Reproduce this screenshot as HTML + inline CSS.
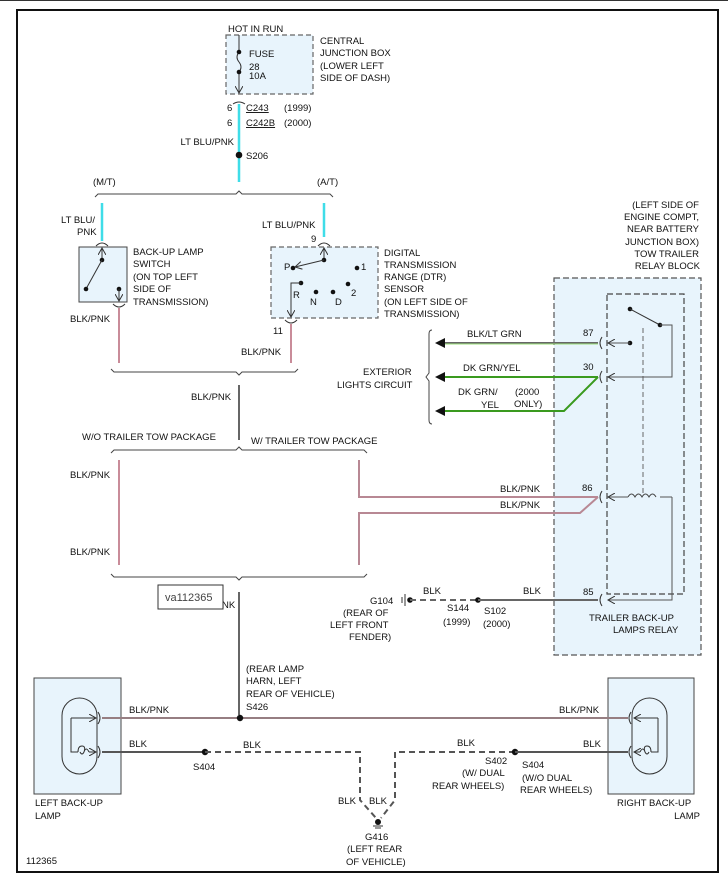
<!DOCTYPE html>
<html><head><meta charset="utf-8"><style>
html,body{margin:0;padding:0;background:#fff}
svg{display:block}
text{font-family:"Liberation Sans",Arial,sans-serif;font-size:9.5px;fill:#111}
</style></head><body>
<svg width="728" height="882" viewBox="0 0 728 882" xmlns="http://www.w3.org/2000/svg">
<defs>
<marker id="ah" markerWidth="8" markerHeight="8" refX="7" refY="4" orient="auto" markerUnits="userSpaceOnUse"><path d="M0,0 L7,4 L0,8" fill="none" stroke="#333" stroke-width="1"/></marker>
</defs>
<line x1="0" y1="0.5" x2="728" y2="0.5" stroke="#333" stroke-width="1"/>
<rect x="17" y="10" width="701" height="862" fill="none" stroke="#111" stroke-width="2"/>

<!-- Relay block background (drawn first so wires overlay) -->
<rect x="554" y="278" width="147" height="377" fill="#e8f4fc" stroke="#555" stroke-width="1.2" stroke-dasharray="6,3"/>
<rect x="607" y="294" width="77" height="300" fill="none" stroke="#444" stroke-width="1.2" stroke-dasharray="6,3"/>

<!-- Central junction box -->
<rect x="226" y="35" width="87" height="59" fill="#e8f4fc" stroke="#666" stroke-width="1.2" stroke-dasharray="5,3"/>
<text x="228" y="32">HOT IN RUN</text>
<line x1="239" y1="35" x2="239" y2="52" stroke="#333"/>
<path d="M239,52 q-4,5 0,10 q4,5 0,10" fill="none" stroke="#333"/>
<line x1="239" y1="72" x2="239" y2="93" stroke="#333" marker-end="url(#ah)"/>
<circle cx="239" cy="52" r="2.3" fill="#111"/><circle cx="239" cy="72" r="2.3" fill="#111"/>
<text x="249" y="57">FUSE</text><text x="249" y="70">28</text><text x="249" y="79">10A</text>
<text x="320" y="44">CENTRAL</text><text x="320" y="56">JUNCTION BOX</text><text x="320" y="69">(LOWER LEFT</text><text x="320" y="81">SIDE OF DASH)</text>
<path d="M233,104 q6,-4 12,0" fill="none" stroke="#333"/>
<line x1="239" y1="104" x2="239" y2="182" stroke="#3fdde8" stroke-width="2.5"/>
<text x="227" y="111">6</text><text x="246" y="111" text-decoration="underline">C243</text><text x="284" y="111">(1999)</text>
<text x="227" y="126">6</text><text x="246" y="126" text-decoration="underline">C242B</text><text x="284" y="126">(2000)</text>
<text x="234" y="145" text-anchor="end">LT BLU/PNK</text>
<circle cx="239" cy="155" r="3.3" fill="#111"/><text x="246" y="159">S206</text>
<text x="93" y="185">(M/T)</text><text x="317" y="185">(A/T)</text>
<path d="M95,197 l3,-3 H236 l3,-3 l3,3 H330 l3,3" fill="none" stroke="#444"/>

<!-- Backup switch -->
<line x1="102" y1="203" x2="102" y2="241" stroke="#3fdde8" stroke-width="2.5"/>
<text x="61" y="223">LT BLU/</text><text x="77" y="235">PNK</text>
<path d="M96,246 q6,-6 12,0" fill="none" stroke="#333"/>
<rect x="79" y="247" width="48" height="55" fill="#e8f4fc" stroke="#444"/>
<line x1="102" y1="260" x2="102" y2="248" stroke="#333" marker-end="url(#ah)"/>
<circle cx="102" cy="260" r="2.3" fill="#111"/>
<line x1="102" y1="260" x2="86" y2="289" stroke="#333"/>
<circle cx="86" cy="289" r="2.3" fill="#111"/>
<circle cx="119" cy="289" r="2.3" fill="#111"/>
<line x1="119" y1="289" x2="119" y2="301" stroke="#333" marker-end="url(#ah)"/>
<path d="M113,304 q6,6 12,0" fill="none" stroke="#333"/>
<text x="133" y="255">BACK-UP LAMP</text><text x="133" y="267">SWITCH</text><text x="133" y="280">(ON TOP LEFT</text><text x="133" y="292">SIDE OF</text><text x="133" y="305">TRANSMISSION)</text>
<text x="70" y="322">BLK/PNK</text>
<line x1="119" y1="308" x2="119" y2="363" stroke="#c98c99" stroke-width="2"/>

<!-- DTR -->
<line x1="324" y1="203" x2="324" y2="237" stroke="#3fdde8" stroke-width="2.5"/>
<text x="262" y="228">LT BLU/PNK</text><text x="311" y="242">9</text>
<path d="M318,246 q6,-6 12,0" fill="none" stroke="#333"/>
<rect x="271" y="247" width="107" height="71" fill="#e8f4fc" stroke="#666" stroke-width="1.2" stroke-dasharray="5,3"/>
<line x1="324" y1="260" x2="324" y2="248" stroke="#333" marker-end="url(#ah)"/>
<circle cx="324" cy="260" r="2.3" fill="#111"/>
<line x1="324" y1="260" x2="295" y2="267" stroke="#333" marker-end="url(#ah)"/>
<circle cx="293" cy="268" r="2.3" fill="#111"/><text x="284" y="270">P</text>
<circle cx="357" cy="268" r="2.3" fill="#111"/><text x="361" y="270">1</text>
<circle cx="301" cy="283" r="2.3" fill="#111"/>
<polyline points="301,283 291,283 291,317" fill="none" stroke="#333" marker-end="url(#ah)"/>
<text x="293" y="298">R</text>
<circle cx="316" cy="292" r="2.3" fill="#111"/><text x="310" y="305">N</text>
<circle cx="333" cy="292" r="2.3" fill="#111"/><text x="335" y="305">D</text>
<circle cx="348" cy="284" r="2.3" fill="#111"/><text x="351" y="296">2</text>
<text x="384" y="256">DIGITAL</text><text x="384" y="268">TRANSMISSION</text><text x="384" y="280">RANGE (DTR)</text><text x="384" y="292">SENSOR</text><text x="384" y="305">(ON LEFT SIDE OF</text><text x="384" y="317">TRANSMISSION)</text>
<path d="M285,320 q6,6 12,0" fill="none" stroke="#333"/>
<text x="273" y="334">11</text>
<line x1="291" y1="324" x2="291" y2="363" stroke="#c98c99" stroke-width="2"/>
<text x="241" y="355">BLK/PNK</text>

<path d="M111,369 l3,3 H236 l3,3 l3,-3 H295 l3,-3" fill="none" stroke="#444"/>
<line x1="239" y1="385" x2="239" y2="440" stroke="#666" stroke-width="2"/>
<text x="191" y="400">BLK/PNK</text>
<text x="82" y="440">W/O TRAILER TOW PACKAGE</text>
<text x="251" y="444">W/ TRAILER TOW PACKAGE</text>
<path d="M111,453 l3,-3 H236 l3,-3 l3,3 H364 l3,3" fill="none" stroke="#444"/>
<line x1="119" y1="460" x2="119" y2="565" stroke="#c98c99" stroke-width="2"/>
<text x="70" y="478">BLK/PNK</text><text x="70" y="555">BLK/PNK</text>
<polyline points="359,460 359,497 598,497" fill="none" stroke="#b88894" stroke-width="2"/>
<polyline points="359,565 359,513 580,513 598,497" fill="none" stroke="#b88894" stroke-width="2"/>
<text x="500" y="492">BLK/PNK</text><text x="500" y="508">BLK/PNK</text>
<path d="M111,574 l3,3 H236 l3,3 l3,-3 H364 l3,-3" fill="none" stroke="#444"/>
<line x1="239" y1="592" x2="239" y2="715" stroke="#666" stroke-width="2"/>
<text x="222" y="608">NK</text>
<rect x="158" y="585" width="65" height="24" fill="#fff" stroke="#333"/>
<text x="165" y="601" style="font-size:11px;fill:#444">va112365</text>

<!-- Relay internals -->
<g text-anchor="end"><text x="699" y="208">(LEFT SIDE OF</text><text x="699" y="220">ENGINE COMPT,</text><text x="699" y="232">NEAR BATTERY</text><text x="699" y="245">JUNCTION BOX)</text><text x="699" y="257">TOW TRAILER</text><text x="700" y="269">RELAY BLOCK</text></g>
<line x1="643" y1="328" x2="643" y2="494" stroke="#666" stroke-dasharray="5,3"/>
<circle cx="630" cy="309" r="2.3" fill="#111"/>
<line x1="630" y1="309" x2="660" y2="325" stroke="#333"/>
<circle cx="660" cy="325" r="2.3" fill="#111"/>
<polyline points="660,325 672,325 672,377 608,377" fill="none" stroke="#555" marker-end="url(#ah)"/>
<circle cx="630" cy="343" r="2.3" fill="#111"/>
<line x1="630" y1="343" x2="608" y2="343" stroke="#555" marker-end="url(#ah)"/>
<polyline points="672,497 672,600 608,600" fill="none" stroke="#555" marker-end="url(#ah)"/>
<line x1="660" y1="497" x2="672" y2="497" stroke="#555"/>
<path d="M628,497 q3.5,-6 7,0 q3.5,-6 7,0 q3.5,-6 7,0 q3.5,-6 7,0" fill="none" stroke="#444"/>
<line x1="628" y1="497" x2="608" y2="497" stroke="#555" marker-end="url(#ah)"/>
<g fill="none" stroke="#333"><path d="M602,337 q-4,6 0,12"/><path d="M602,371 q-4,6 0,12"/><path d="M602,491 q-4,6 0,12"/><path d="M602,594 q-4,6 0,12"/></g>
<text x="583" y="336">87</text><text x="583" y="370">30</text><text x="582" y="491">86</text><text x="583" y="595">85</text>
<line x1="445" y1="343" x2="598" y2="343" stroke="#666" stroke-width="2"/>
<line x1="445" y1="344" x2="598" y2="344" stroke="#9be07a" stroke-width="1"/>
<line x1="445" y1="377" x2="598" y2="377" stroke="#3a9a1f" stroke-width="2"/>
<polyline points="445,411 564,411 598,377" fill="none" stroke="#3a9a1f" stroke-width="2"/>
<g fill="#111"><path d="M435,343 l10,-5 v10z"/><path d="M435,377 l10,-5 v10z"/><path d="M435,411 l10,-5 v10z"/></g>
<text x="467" y="337">BLK/LT GRN</text><text x="463" y="371">DK GRN/YEL</text>
<text x="458" y="395">DK GRN/</text><text x="481" y="408">YEL</text><text x="515" y="395">(2000</text><text x="514" y="407">ONLY)</text>
<path d="M432,330 q-3,0 -3,4 v39 l-3,4 l3,4 v39 q0,4 3,4" fill="none" stroke="#444"/>
<text x="363" y="375">EXTERIOR</text><text x="337" y="388">LIGHTS CIRCUIT</text>
<text x="589" y="621">TRAILER BACK-UP</text><text x="613" y="633">LAMPS RELAY</text>

<!-- G104 -->
<line x1="402" y1="597" x2="402" y2="603" stroke="#333"/><line x1="405" y1="594" x2="405" y2="606" stroke="#333"/>
<circle cx="410" cy="600" r="2.8" fill="#111"/>
<line x1="410" y1="600" x2="478" y2="600" stroke="#666" stroke-width="2" stroke-dasharray="6,4"/>
<circle cx="478" cy="600" r="2.8" fill="#111"/>
<line x1="478" y1="600" x2="598" y2="600" stroke="#666" stroke-width="2"/>
<text x="423" y="594">BLK</text><text x="523" y="594">BLK</text>
<text x="370" y="604">G104</text><text x="343" y="616">(REAR OF</text><text x="330" y="628">LEFT FRONT</text><text x="349" y="640">FENDER)</text>
<text x="447" y="611">S144</text><text x="443" y="625">(1999)</text><text x="484" y="614">S102</text><text x="483" y="627">(2000)</text>

<!-- Lamps -->
<rect x="34" y="678" width="87" height="116" fill="#e8f4fc" stroke="#444"/>
<rect x="62" y="698" width="35" height="76" rx="17.5" fill="none" stroke="#333"/>
<polyline points="71,718 71,752 78,752" fill="none" stroke="#333"/>
<line x1="71" y1="718" x2="96" y2="718" stroke="#333" marker-end="url(#ah)"/>
<path d="M78,752 q0,-6 4,-6 q4,0 2,6 q-2,4 -4,0 M84,752 q2,-6 5,0" fill="none" stroke="#333"/>
<line x1="89" y1="752" x2="96" y2="752" stroke="#333" marker-end="url(#ah)"/>
<g fill="none" stroke="#333"><path d="M98,712 q4,6 0,12"/><path d="M98,746 q4,6 0,12"/></g>
<rect x="608" y="678" width="86" height="116" fill="#e8f4fc" stroke="#444"/>
<rect x="632" y="698" width="35" height="76" rx="17.5" fill="none" stroke="#333"/>
<polyline points="658,718 658,752 651,752" fill="none" stroke="#333"/>
<line x1="658" y1="718" x2="634" y2="718" stroke="#333" marker-end="url(#ah)"/>
<path d="M651,752 q0,-6 -4,-6 q-4,0 -2,6 q2,4 4,0 M645,752 q-2,-6 -5,0" fill="none" stroke="#333"/>
<line x1="640" y1="752" x2="634" y2="752" stroke="#333" marker-end="url(#ah)"/>
<g fill="none" stroke="#333"><path d="M631,712 q-4,6 0,12"/><path d="M631,746 q-4,6 0,12"/></g>
<line x1="102" y1="718" x2="628" y2="718" stroke="#666" stroke-width="2"/>
<line x1="102" y1="718" x2="628" y2="718" stroke="#e7a8b3" stroke-width="0.8"/>
<circle cx="240" cy="718" r="3.2" fill="#111"/>
<text x="246" y="672">(REAR LAMP</text><text x="246" y="684">HARN, LEFT</text><text x="246" y="697">REAR OF VEHICLE)</text><text x="246" y="710">S426</text>
<text x="129" y="713">BLK/PNK</text><text x="559" y="713">BLK/PNK</text>
<line x1="102" y1="752" x2="205" y2="752" stroke="#555" stroke-width="2"/>
<circle cx="205" cy="752" r="3.2" fill="#111"/>
<polyline points="205,752 360,752 360,800 376,818" fill="none" stroke="#555" stroke-width="2" stroke-dasharray="6,4"/>
<polyline points="515,752 395,752 395,800 381,818" fill="none" stroke="#555" stroke-width="2" stroke-dasharray="6,4"/>
<circle cx="515" cy="752" r="3.2" fill="#111"/>
<line x1="515" y1="752" x2="628" y2="752" stroke="#555" stroke-width="2"/>
<circle cx="378" cy="822" r="3" fill="#111"/>
<line x1="373" y1="826" x2="383" y2="826" stroke="#333"/><line x1="375" y1="828" x2="381" y2="828" stroke="#333"/>
<text x="129" y="747">BLK</text><text x="243" y="748">BLK</text><text x="457" y="746">BLK</text><text x="583" y="747">BLK</text>
<text x="193" y="770">S404</text>
<text x="485" y="764">S402</text><text x="462" y="776">(W/ DUAL</text><text x="432" y="789">REAR WHEELS)</text>
<text x="522" y="768">S404</text><text x="522" y="781">(W/O DUAL</text><text x="520" y="793">REAR WHEELS)</text>
<text x="338" y="804">BLK</text><text x="369" y="804">BLK</text>
<text x="365" y="840">G416</text><text x="347" y="852">(LEFT REAR</text><text x="346" y="865">OF VEHICLE)</text>
<text x="35" y="806">LEFT BACK-UP</text><text x="35" y="819">LAMP</text>
<text x="617" y="806">RIGHT BACK-UP</text><text x="700" y="819" text-anchor="end">LAMP</text>
<text x="26" y="864">112365</text>
</svg>
</body></html>
